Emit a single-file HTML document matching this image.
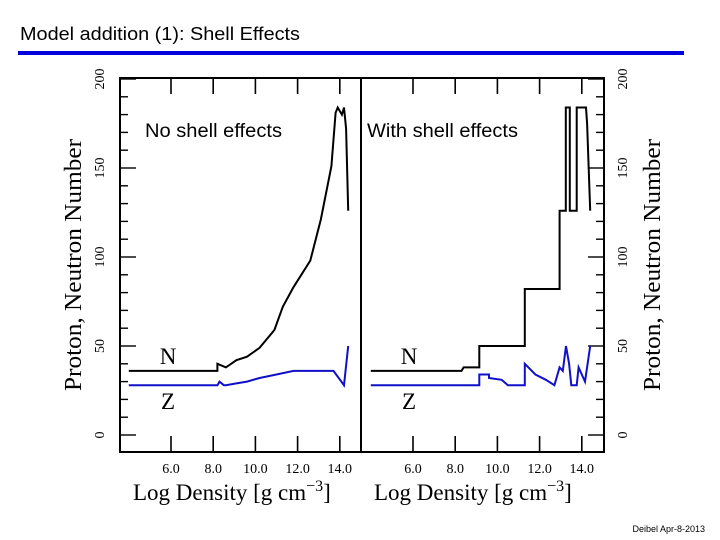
<!DOCTYPE html>
<html><head><meta charset="utf-8"><style>
body{margin:0;background:#fff}
svg{display:block}
.ser{font-family:"Liberation Serif",serif}
.sans{font-family:"Liberation Sans",sans-serif}
</style></head><body>
<svg id="c" width="720" height="540" viewBox="0 0 720 540" xmlns="http://www.w3.org/2000/svg">
<text x="20" y="40" class="sans" font-size="18" textLength="280" lengthAdjust="spacingAndGlyphs">Model addition (1): Shell Effects</text>
<rect x="18" y="51" width="666" height="4" fill="#0000dd"/>
<text x="705" y="532" class="sans" font-size="9" text-anchor="end">Deibel Apr-8-2013</text>
<g id="plot"></g>
</svg>
<script>
const yTicks=[0,50,100,150,200];
const xTicks=[6,8,10,12,14];
const xTickLabels=["6.0","8.0","10.0","12.0","14.0"];
const leftNx=[4.0,8.2,8.2,8.6,8.6,9.1,9.1,9.6,9.6,10.2,10.9,11.3,11.8,12.6,13.1,13.6,13.8,13.9,14.1,14.2,14.3,14.4];
const leftNy=[36,36,40,38,38,42,42,44,44,49,59,72,83,98,121,151,181,184,180,184,172,126];
const leftZx=[4.0,8.2,8.3,8.5,8.6,9.1,9.6,10.2,11.0,11.8,13.7,14.2,14.4];
const leftZy=[28,28,30,28,28,29,30,32,34,36,36,28,50];
const rightNx=[4.0,8.3,8.4,9.14,9.14,11.3,11.3,12.95,12.95,13.24,13.24,13.43,13.43,13.76,13.76,14.2,14.25,14.4];
const rightNy=[36,36,38,38,50,50,82,82,126,126,184,184,126,126,184,184,175,126];
const rightZx=[4.0,9.14,9.14,9.6,9.6,10.2,10.5,11.3,11.3,11.8,12.3,12.7,12.95,13.1,13.25,13.4,13.5,13.76,13.85,14.15,14.4];
const rightZy=[28,28,34,34,32,31,28,28,40,34,31,28,38,36,50,40,28,28,38,30,50];
const NS='http://www.w3.org/2000/svg';
const g=document.getElementById('plot');
const T=435, P=1.78;
function yS(v){return T-v*P;}
function mk(tag,at){const e=document.createElementNS(NS,tag);for(const k in at)e.setAttribute(k,at[k]);g.appendChild(e);return e;}
const panels=[{x0:120,x1:361,x6:171,side:'left',nx:leftNx,ny:leftNy,zx:leftZx,zy:leftZy,nm:'left',label:'No shell effects',lx:145,lw:137},
{x0:361,x1:604,x6:413,side:'right',nx:rightNx,ny:rightNy,zx:rightZx,zy:rightZy,nm:'right',label:'With shell effects',lx:367,lw:151}];
panels.forEach(p=>{
 const xS=v=>p.x6+(v-6)*21.1;
 let e=mk('rect',{x:p.x0,y:78,width:p.x1-p.x0,height:374,fill:'none',stroke:'#000','stroke-width':2});
 
 xTicks.forEach((t,i)=>{const x=xS(t);
  let a=mk('line',{x1:x,x2:x,y1:78,y2:94,stroke:'#000','stroke-width':1.6});
  let b=mk('line',{x1:x,x2:x,y1:436,y2:452,stroke:'#000','stroke-width':1.6});
  let l=mk('text',{x:x,y:473,'text-anchor':'middle','font-size':14,class:'ser'});l.textContent=xTickLabels[i];
  
 });
 for(let v=0;v<=200;v+=10){const y=yS(v);const maj=v%50===0;const len=maj?16:8;
  const ax=p.side==='left'?p.x0:p.x1, dx=p.side==='left'?len:-len;
  let t=mk('line',{x1:ax,x2:ax+dx,y1:y,y2:y,stroke:'#000','stroke-width':1.4});}
 const xl=mk('text',{x:p.x0+13,y:500,'font-size':23,class:'ser'});
 xl.innerHTML='Log Density [g cm<tspan dy="-9" font-size="16">−3</tspan><tspan dy="9">]</tspan>';
 
 const pl=mk('text',{x:p.lx,y:137,'font-size':19,class:'sans',textLength:p.lw,lengthAdjust:'spacingAndGlyphs'});pl.textContent=p.label;
 
 const ll=p.x0+48;
 let nl=mk('text',{x:ll,y:364,'font-size':23,class:'ser','text-anchor':'middle'});nl.textContent='N';
 let zl=mk('text',{x:ll,y:409,'font-size':23,class:'ser','text-anchor':'middle'});zl.textContent='Z';
 const pts=(xs,ys)=>xs.map((x,i)=>xS(x).toFixed(1)+','+yS(ys[i]).toFixed(1)).join(' ');
 let n=mk('polyline',{points:pts(p.nx,p.ny),fill:'none',stroke:'#000','stroke-width':2});
 let z=mk('polyline',{points:pts(p.zx,p.zy),fill:'none',stroke:'#1010c8','stroke-width':2});
});
[{x:100,sd:'left'},{x:623,sd:'right'}].forEach(o=>{
 yTicks.forEach(v=>{const y=yS(v);let t=mk('text',{x:o.x,y:y,'font-size':14,class:'ser','text-anchor':'middle',transform:`rotate(-90 ${o.x} ${y})`,dy:'4'});
  t.textContent=String(v);});
});
[{x:81,sd:'left'},{x:660,sd:'right'}].forEach(o=>{
 let t=mk('text',{x:o.x,y:265,'font-size':24,class:'ser','text-anchor':'middle',textLength:252,lengthAdjust:'spacingAndGlyphs',transform:`rotate(-90 ${o.x} 265)`});
 t.textContent='Proton, Neutron Number';
});
</script>
</body></html>
